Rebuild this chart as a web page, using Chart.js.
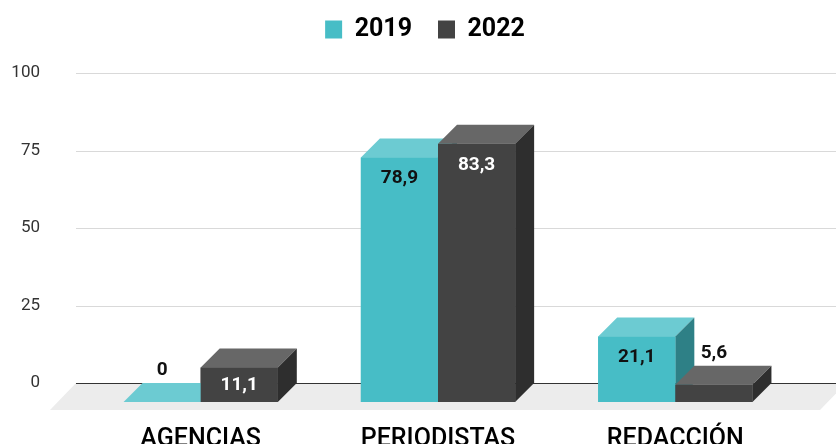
<!DOCTYPE html>
<html>
<head>
<meta charset="utf-8">
<script src="https://cdn.jsdelivr.net/npm/chart.js@4"></script>
<style>
  html, body { margin: 0; padding: 0; background: #fff; }
  canvas { display: block; }
</style>
</head>
<body>
<canvas id="chart" width="836" height="444"></canvas>
<script>
const categories = ['AGENCIAS', 'PERIODISTAS', 'REDACCIÓN'];
const seriesNames = ['2019', '2022'];
const values2019 = [0, 78.9, 21.1];
const values2022 = [11.1, 83.3, 5.6];
const yTicks = [0, 25, 50, 75, 100];

// depth of the fake 3d extrusion, in px
const DEPTH = 19;
const faces = [
  { front: '#47bdc6', top: '#6ccbd2', side: '#2e8086', label: '#111' },
  { front: '#434343', top: '#676767', side: '#2e2e2e', label: '#fff' }
];

function poly(ctx, color, pts) {
  ctx.fillStyle = color;
  ctx.beginPath();
  ctx.moveTo(pts[0][0], pts[0][1]);
  for (let k = 1; k < pts.length; k++) ctx.lineTo(pts[k][0], pts[k][1]);
  ctx.closePath();
  ctx.fill();
}

function fmt(v) {
  return Number.isInteger(v) ? String(v) : v.toFixed(1).replace('.', ',');
}

// legend in the original sits a bit right of the plot centre
const legendShift = {
  id: 'legendShift',
  afterLayout(chart) {
    chart.legend.left += 28;
    chart.legend.right += 28;
  }
};

// floor + gridlines sit on the back plane
const floorAndGrid = {
  id: 'floorAndGrid',
  beforeDatasetsDraw(chart) {
    const { ctx, chartArea, scales: { y } } = chart;
    const zero = y.getPixelForValue(0);
    const x0 = chartArea.left - 6;
    ctx.save();
    poly(ctx, '#ececec', [
      [x0, zero - DEPTH], [chart.width + 10, zero - DEPTH],
      [chart.width - 16, zero + 8], [x0 - 26, zero + 8]
    ]);
    y.ticks.forEach(t => {
      const py = Math.round(y.getPixelForValue(t.value) - DEPTH) + 0.5;
      ctx.strokeStyle = t.value === 0 ? '#333333' : '#d9d9d9';
      ctx.lineWidth = 1;
      ctx.beginPath();
      ctx.moveTo(x0, py);
      ctx.lineTo(chart.width, py);
      ctx.stroke();
    });
    ctx.restore();
  }
};

// top + side faces, then front again so the next bar hides the previous side
const bars3d = {
  id: 'bars3d',
  afterDatasetsDraw(chart) {
    const ctx = chart.ctx;
    const metas = chart.getSortedVisibleDatasetMetas();
    ctx.save();
    categories.forEach((c, i) => {
      metas.forEach(meta => {
        const bar = meta.data[i];
        const { x, y, base, width } = bar.getProps(['x', 'y', 'base', 'width'], true);
        const l = x - width / 2, r = x + width / 2;
        const f = faces[meta.index];
        poly(ctx, f.top, [[l, y], [l + DEPTH, y - DEPTH], [r + DEPTH, y - DEPTH], [r, y]]);
        poly(ctx, f.side, [[r, y], [r + DEPTH, y - DEPTH], [r + DEPTH, base - DEPTH], [r, base]]);
        bar.draw(ctx);
      });
    });

    ctx.font = 'bold 19px Roboto';
    ctx.textAlign = 'center';
    ctx.textBaseline = 'middle';
    metas.forEach(meta => {
      meta.data.forEach((bar, i) => {
        const v = chart.data.datasets[meta.index].data[i];
        const { x, y, base } = bar.getProps(['x', 'y', 'base'], true);
        let ty;
        if (v >= 8) {
          ty = Math.min(y + 21, (y + base) / 2);
          ctx.fillStyle = faces[meta.index].label;
        } else {
          ty = y - DEPTH - 12.5;
          ctx.fillStyle = '#111';
        }
        ctx.fillText(fmt(v), x, ty);
      });
    });
    ctx.restore();
  }
};

new Chart(document.getElementById('chart'), {
  type: 'bar',
  data: {
    labels: categories,
    datasets: [
      { label: seriesNames[0], data: values2019, backgroundColor: faces[0].front, borderWidth: 0 },
      { label: seriesNames[1], data: values2022, backgroundColor: faces[1].front, borderWidth: 0 }
    ]
  },
  options: {
    responsive: false,
    animation: false,
    layout: { padding: { top: -9, right: 42, left: 0, bottom: 0 } },
    datasets: { bar: { barPercentage: 1, categoryPercentage: 0.65 } },
    plugins: {
      legend: {
        position: 'top',
        labels: {
          font: { family: 'Roboto', size: 25, weight: 'bold' },
          color: '#000',
          boxWidth: 17,
          boxHeight: 18,
          padding: 26
        }
      },
      // empty title used as a spacer under the legend
      title: { display: true, text: '', weight: 500, padding: { top: 0, bottom: 24 }, font: { size: 10, lineHeight: 1.6 } },
      tooltip: { enabled: false }
    },
    scales: {
      x: {
        grid: { display: false, drawTicks: false },
        border: { display: false },
        ticks: { font: { family: 'Roboto', size: 25, weight: '500' }, color: '#000', padding: 23 },
        afterFit(s) { s.height = 42; }
      },
      y: {
        min: 0,
        max: 100,
        grid: { display: false, drawTicks: false },
        border: { display: false },
        afterBuildTicks(s) { s.ticks = yTicks.map(v => ({ value: v })); },
        ticks: { labelOffset: -DEPTH, padding: 42, font: { family: 'Roboto', size: 17 }, color: '#333' },
        afterFit(s) {
          s.width = 82;
          s.paddingTop = 0;
          s.paddingBottom = 0;
        }
      }
    }
  },
  plugins: [legendShift, floorAndGrid, bars3d]
});
</script>
</body>
</html>
